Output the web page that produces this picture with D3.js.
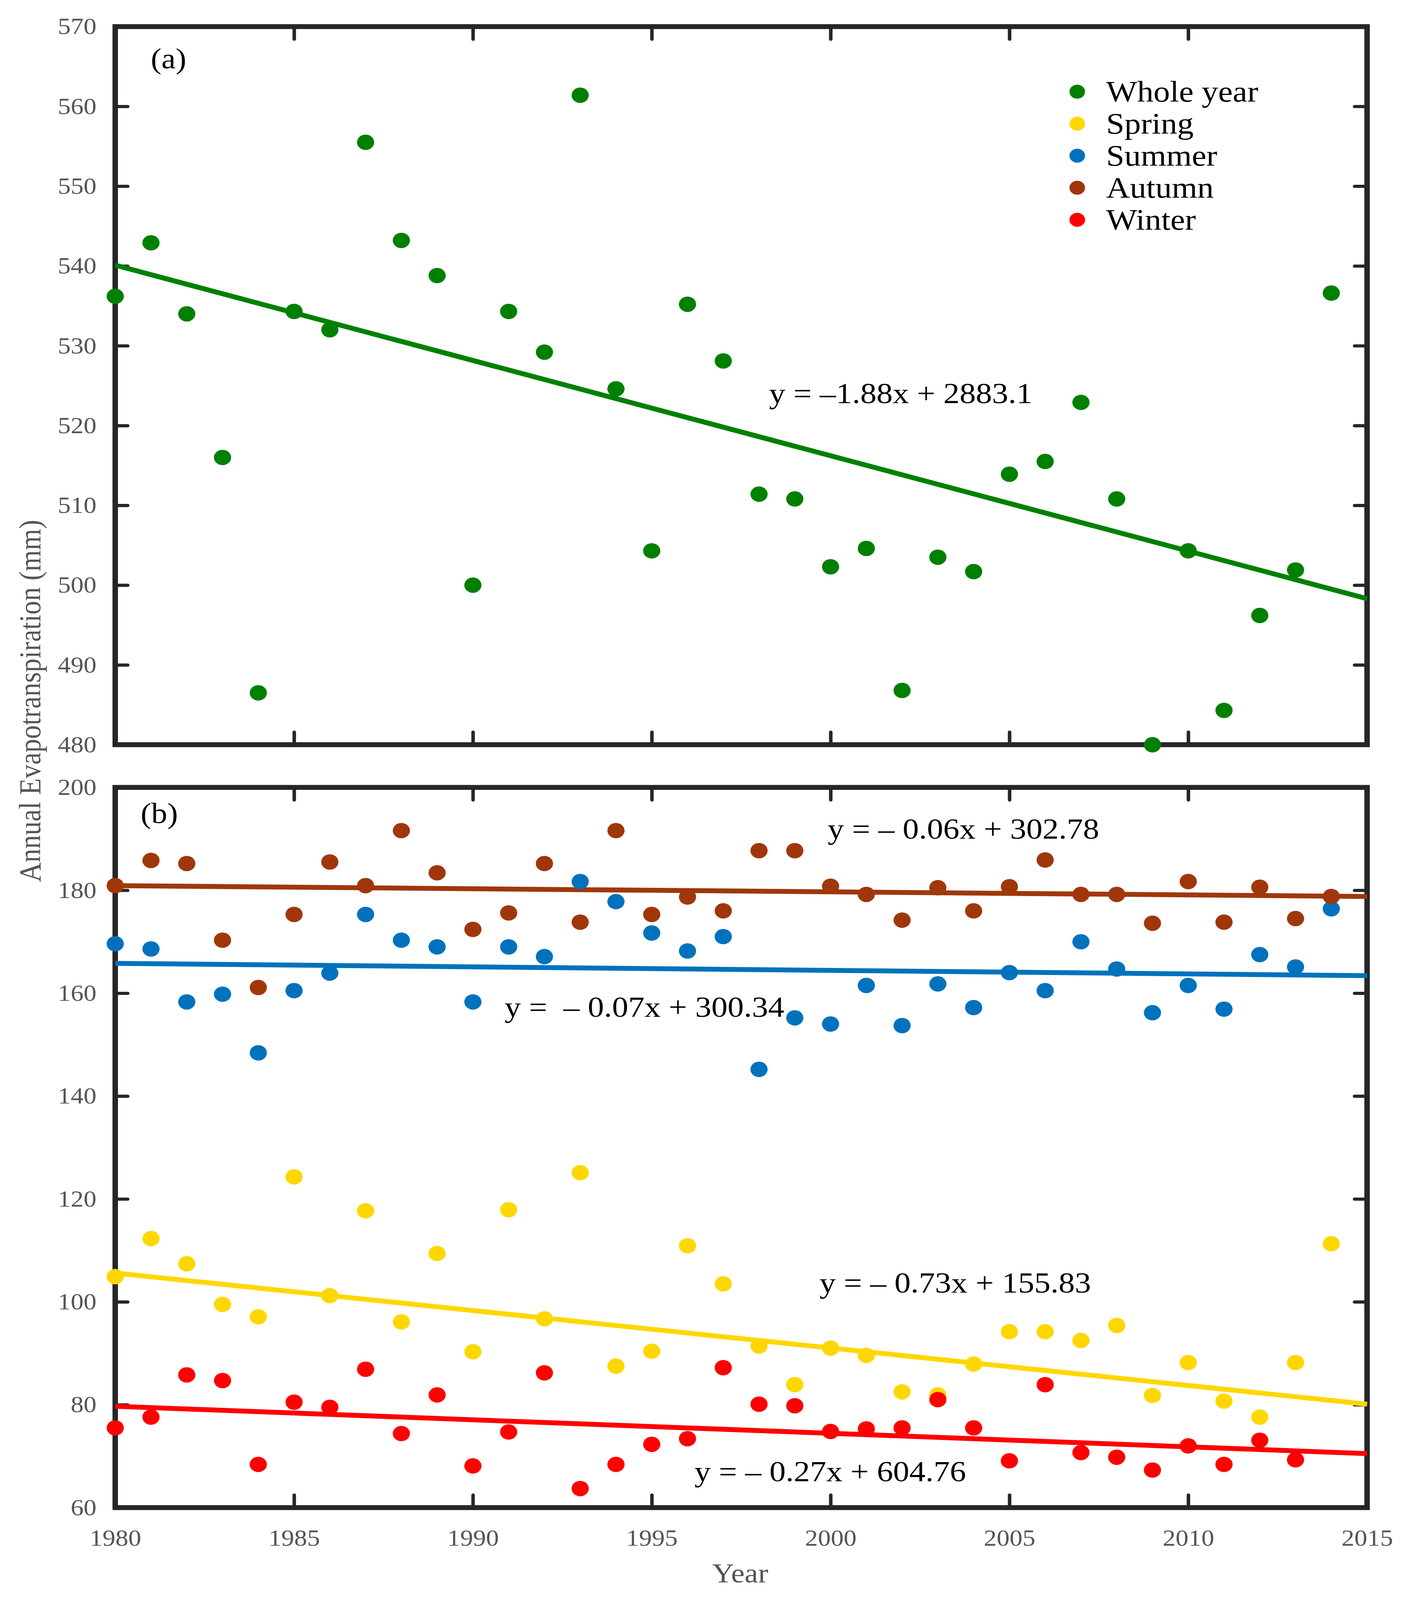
<!DOCTYPE html>
<html>
<head>
<meta charset="utf-8">
<script src="https://cdn.jsdelivr.net/npm/d3@7/dist/d3.min.js"></script>
<style>
	html, body { margin: 0; padding: 0; background: #fff; overflow: hidden; }
	svg { display: block; }
	text { font-family: "Liberation Serif", "Times New Roman", serif; }
</style>
</head>
<body>
<div id="chart"></div>
<script>
// values
var years = [1980, 1981, 1982, 1983, 1984, 1985, 1986, 1987, 1988, 1989,
	1990, 1991, 1992, 1993, 1994, 1995, 1996, 1997, 1998, 1999,
	2000, 2001, 2002, 2003, 2004, 2005, 2006, 2007, 2008, 2009,
	2010, 2011, 2012, 2013, 2014];

var wholeYear = [536.2, 542.9, 534.0, 516.0, 486.5, 534.3, 532.0, 555.5, 543.2, 538.8,
	500.0, 534.3, 529.2, 561.4, 524.6, 504.3, 535.2, 528.1, 511.4, 510.8,
	502.3, 504.6, 486.8, 503.5, 501.7, 513.9, 515.5, 522.9, 510.8, 480.0,
	504.3, 484.3, 496.2, 501.9, 536.6];

var spring = [104.9, 112.3, 107.4, 99.5, 97.1, 124.3, 101.2, 117.7, 96.1, 109.4,
	90.3, 117.9, 96.7, 125.1, 87.5, 90.4, 110.9, 103.5, 91.4, 83.9,
	91.0, 89.6, 82.5, 81.9, 87.9, 94.2, 94.2, 92.5, 95.4, 81.8,
	88.2, 80.7, 77.6, 88.2, 111.3];

var summer = [169.6, 168.6, 158.3, 159.8, 148.4, 160.5, 163.9, 175.3, 170.3, 169.0,
	158.3, 169.0, 167.1, 181.7, 177.8, 171.7, 168.2, 171.0, 145.2, 155.2,
	154.0, 161.5, 153.7, 161.8, 157.2, 164.0, 160.5, 170.0, 164.7, 156.2,
	161.5, 156.9, 167.5, 165.1, 176.4];

var autumn = [180.9, 185.8, 185.2, 170.3, 161.1, 175.3, 185.5, 180.9, 191.6, 183.4,
	172.4, 175.6, 185.2, 173.8, 191.6, 175.3, 178.7, 176.0, 187.7, 187.7,
	180.8, 179.2, 174.2, 180.5, 176.0, 180.7, 185.9, 179.2, 179.2, 173.6,
	181.7, 173.8, 180.6, 174.5, 178.8];

var winter = [75.5, 77.6, 85.8, 84.7, 68.4, 80.5, 79.5, 86.9, 74.4, 81.9,
	68.1, 74.7, 86.2, 63.7, 68.4, 72.3, 73.4, 87.2, 80.1, 79.8,
	74.8, 75.3, 75.5, 81.0, 75.5, 69.1, 83.9, 70.7, 69.8, 67.3,
	72.0, 68.4, 73.1, 69.3, null];

// fitted lines, value at 1980 and at 2015
var trendYears = [1980, 2015];
var trendWhole = [540.1, 498.3];
var trendSpring = [105.6, 80.1];
var trendSummer = [165.8, 163.4];
var trendAutumn = [180.9, 178.8];
var trendWinter = [79.7, 70.5];

var eqWhole = "y = \u20131.88x + 2883.1";
var eqSpring = "y = \u2013 0.73x + 155.83";
var eqSummer = "y =  \u2013 0.07x + 300.34";
var eqAutumn = "y = \u2013 0.06x + 302.78";
var eqWinter = "y = \u2013 0.27x + 604.76";

var xTicks = [1980, 1985, 1990, 1995, 2000, 2005, 2010, 2015];
var yTicksA = [480, 490, 500, 510, 520, 530, 540, 550, 560, 570];
var yTicksB = [60, 80, 100, 120, 140, 160, 180, 200];

var legendLabels = ["Whole year", "Spring", "Summer", "Autumn", "Winter"];

var colors = {
	whole: "#008000",
	spring: "#FFD700",
	summer: "#0072BD",
	autumn: "#A0370B",
	winter: "#FF0000"
};
var legendColors = [colors.whole, colors.spring, colors.summer, colors.autumn, colors.winter];

var w = 3592,
	h = 4572,
	left = 295,
	right = 3500;

var ink = "#262626",
	grey = "#555";

// the drawing keeps its 3592 x 4572 units and is fitted to whatever the window shows
var vw = window.innerWidth || w,
	vh = window.innerHeight || h;

var svg = d3.select("#chart")
	.append("svg")
	.attr("width", vw)
	.attr("height", vh)
	.attr("viewBox", "0 0 " + w + " " + h)
	.attr("preserveAspectRatio", "none");

svg.append("rect").attr("width", w).attr("height", h).attr("fill", "#fff");

var xScale = d3.scaleLinear().domain([1980, 2015]).range([left, right]);
var yA = d3.scaleLinear().domain([480, 570]).range([2128, 76]);
var yB = d3.scaleLinear().domain([60, 200]).range([4308, 2250]);

function styleAxis(g) {
	g.select(".domain").remove();
	g.selectAll(".tick line").attr("stroke", ink).attr("stroke-width", 9).attr("stroke-linecap", "round");
	g.selectAll(".tick text").attr("fill", grey).attr("font-size", 66)
		.attr("font-family", "'Liberation Serif', 'Times New Roman', serif");
}

function drawFrame(yScale, yTicks, showYears) {
	var top = yScale.range()[1],
		bottom = yScale.range()[0];

	svg.append("g")
		.attr("transform", "translate(0," + bottom + ")")
		.call(d3.axisBottom(xScale).tickValues(xTicks).tickSize(-36).tickPadding(62)
			.tickFormat(showYears ? d3.format("d") : ""))
		.call(styleAxis);

	svg.append("g")
		.attr("transform", "translate(0," + top + ")")
		.call(d3.axisTop(xScale).tickValues(xTicks).tickSize(-36).tickFormat(""))
		.call(styleAxis);

	svg.append("g")
		.attr("transform", "translate(" + left + ",0)")
		.call(d3.axisLeft(yScale).tickValues(yTicks).tickSize(-32).tickPadding(48))
		.call(styleAxis);

	svg.append("g")
		.attr("transform", "translate(" + right + ",0)")
		.call(d3.axisRight(yScale).tickValues(yTicks).tickSize(-32).tickFormat(""))
		.call(styleAxis);

	svg.append("rect")
		.attr("x", left)
		.attr("y", top)
		.attr("width", right - left)
		.attr("height", bottom - top)
		.attr("fill", "none")
		.attr("stroke", ink)
		.attr("stroke-width", 14);
}

function drawTrend(yScale, ends, color) {
	var line = d3.line()
		.x(function(d, i){ return xScale(trendYears[i]); })
		.y(function(d){ return yScale(d); });
	svg.append("path")
		.datum(ends)
		.attr("d", line)
		.attr("fill", "none")
		.attr("stroke", color)
		.attr("stroke-width", 14);
}

function drawPoints(yScale, values, color) {
	svg.append("g")
		.selectAll("circle")
		.data(values)
		.enter()
		.filter(function(d){ return d != null; })
		.append("circle")
		.attr("cx", function(d, i){ return xScale(years[i]); })
		.attr("cy", function(d){ return yScale(d); })
		.attr("r", 22)
		.attr("fill", color);
}

function label(txt, x, y, size, fill) {
	return svg.append("text")
		.attr("x", x)
		.attr("y", y)
		.attr("font-size", size)
		.attr("fill", fill || "#000")
		.style("white-space", "pre")
		.text(txt);
}

// panel (a)
drawFrame(yA, yTicksA, false);
drawTrend(yA, trendWhole, colors.whole);
drawPoints(yA, wholeYear, colors.whole);
label("(a)", 386, 195, 82);
label(eqWhole, 1969, 1152, 83);

// legend
legendLabels.forEach(function(name, i){
	var cy = 262 + i * 91.5;
	svg.append("circle")
		.attr("cx", 2758)
		.attr("cy", cy)
		.attr("r", 20)
		.attr("fill", legendColors[i]);
	label(name, 2832, cy + 28, 84);
});

// panel (b)
drawFrame(yB, yTicksB, true);
drawTrend(yB, trendSpring, colors.spring);
drawTrend(yB, trendSummer, colors.summer);
drawTrend(yB, trendAutumn, colors.autumn);
drawTrend(yB, trendWinter, colors.winter);
drawPoints(yB, spring, colors.spring);
drawPoints(yB, summer, colors.summer);
drawPoints(yB, autumn, colors.autumn);
drawPoints(yB, winter, colors.winter);
label("(b)", 360, 2352, 82);
label(eqAutumn, 2119, 2396, 83);
label(eqSummer, 1292, 2906, 83);
label(eqSpring, 2098, 3693, 83);
label(eqWinter, 1778, 4233, 83);

// axis titles
svg.append("text")
	.attr("transform", "translate(103,2003) rotate(-90)")
	.attr("text-anchor", "middle")
	.attr("font-size", 78)
	.attr("fill", grey)
	.text("Annual Evapotranspiration (mm)");

svg.append("text")
	.attr("x", 1895)
	.attr("y", 4522)
	.attr("text-anchor", "middle")
	.attr("font-size", 78)
	.attr("fill", grey)
	.text("Year");
</script>
</body>
</html>
